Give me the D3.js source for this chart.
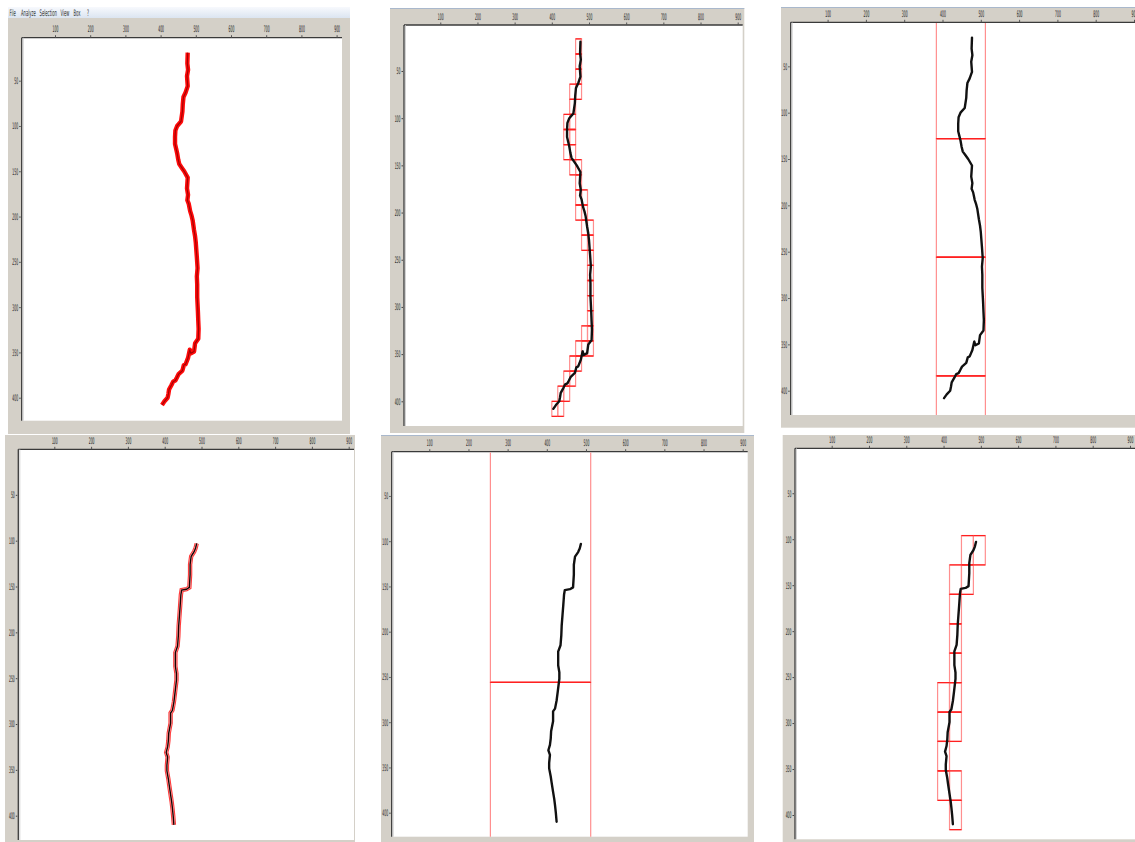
<!DOCTYPE html>
<html><head><meta charset="utf-8">
<script src="https://cdn.jsdelivr.net/npm/d3@7"></script>
<style>body{margin:0;background:#fff}svg{display:block}</style>
</head><body>
<svg id="c" width="1135" height="842"></svg>
<script>
// ---------- data ----------
const xTicks = [100,200,300,400,500,600,700,800,900];
const yTicks = [50,100,150,200,250,300,350,400];
const menuItems = ["File","Analyze","Selection","View","Box","?"];

// crack profile A (top row), [x, y] in image units
const curveA = [[477,19],[476,31],[478,38],[475,45],[477,56],[471,63],[465,68],[463,76],[462,84],[458,95],[447,100],[442,105],[441,112],[441,120],[444,125],[447,130],[450,137],[453,142],[460,146],[467,150],[477,157],[476,163],[475,169],[478,176],[476,182],[480,186],[482,190],[484,194],[488,199],[491,204],[495,215],[498,222],[500,229],[503,245],[505,257],[503,266],[504,275],[504,289],[506,305],[507,315],[508,324],[507,335],[498,340],[495,349],[486,351],[483,347],[478,356],[471,363],[466,364],[462,370],[451,374],[446,378],[442,381],[436,382],[431,386],[424,391],[422,396],[420,400],[411,404],[404,408]];
// crack profile B (bottom row)
const curveB = [[487,103],[484,108],[480,112],[472,117],[469,126],[469,137],[467,151],[459,153],[446,154],[444,159],[443,165],[442,171],[440,182],[438,193],[437,204],[435,215],[429,222],[429,230],[429,237],[432,245],[432,252],[428,266],[425,276],[421,285],[416,288],[416,299],[411,310],[410,318],[408,325],[404,331],[408,336],[406,345],[406,351],[410,360],[412,366],[416,377],[419,385],[421,392],[423,400],[425,410]];

// occupied boxes [x0, y0]
const boxes16 = [[464,16],[464,32],[464,48],[448,64],[464,64],[448,80],[432,96],[448,96],[432,112],[448,112],[432,128],[448,128],[448,144],[464,144],[464,160],[464,176],[480,176],[464,192],[480,192],[480,208],[496,208],[480,224],[496,224],[496,240],[496,256],[496,272],[496,288],[496,304],[480,320],[496,320],[464,336],[480,336],[496,336],[448,352],[464,352],[432,368],[448,368],[416,384],[432,384],[400,400],[416,400]];
const boxes128 = [[384,0],[384,128],[384,256],[384,384]];
const boxes256 = [[256,0],[256,256]];
const boxes32 = [[448,96],[480,96],[416,128],[448,128],[416,160],[416,192],[416,224],[384,256],[416,256],[384,288],[416,288],[384,320],[384,352],[416,352],[416,384]];

// ---------- layout ----------
const panels = [
  {frame:[8,18,350,434], plot:[21.7,37.7,342,420.7], xr:[19.8,336.6], yr:[35.4,397.7], curve:curveA, style:"red", menu:true},
  {frame:[390,8,744.3,433], plot:[404,25,742.7,426], xr:[403.1,737.7], yr:[23.8,401.3], curve:curveA, style:"black", boxes:boxes16, size:16, topline:true},
  {frame:[781,7,1140,427.7], plot:[790.7,22.3,1140,415], xr:[789.3,1134], yr:[20,390.7], curve:curveA, style:"black", boxes:boxes128, size:128, topline:true},
  {frame:[5,435,355,842], plot:[18.3,449.3,354,840], xr:[17.5,348.7], yr:[449,815.7], curve:curveB, style:"redbox"},
  {frame:[381,435,754,842], plot:[391.7,451.7,747.7,836.7], xr:[390.1,742.7], yr:[450.7,812.7], curve:curveB, style:"black", boxes:boxes256, size:256, topline:true},
  {frame:[782.7,435,1140,842], plot:[795,448.3,1140,839.3], xr:[794.4,1130], yr:[447.3,815], curve:curveB, style:"black", boxes:boxes32, size:32}
];

const svg = d3.select("#c");
const defs = svg.append("defs");
const FONT = "'DejaVu Sans', 'Liberation Sans', sans-serif";

panels.forEach((p, i) => {
  const [fx0, fy0, fx1, fy1] = p.frame;
  const [l, t, r, b] = p.plot;
  const g = svg.append("g");
  const x = d3.scaleLinear().domain([0, 900]).range(p.xr);
  const y = d3.scaleLinear().domain([0, 400]).range(p.yr);

  if (p.menu) {
    const grad = defs.append("linearGradient").attr("id","mg").attr("x1",0).attr("x2",0).attr("y1",0).attr("y2",1);
    grad.append("stop").attr("offset","0%").attr("stop-color","#f7f9fd");
    grad.append("stop").attr("offset","100%").attr("stop-color","#dce5f1");
    g.append("rect").attr("x", fx0).attr("y", 7).attr("width", fx1 - fx0).attr("height", fy0 - 7).attr("fill", "url(#mg)");
    const mx = [9.5, 21, 39.5, 60.5, 73.5, 87];
    menuItems.forEach((m, k) => {
      g.append("g").attr("transform", `translate(${mx[k]},16)`)
        .append("text").attr("transform","scale(0.42,1)")
        .attr("font-family", FONT).attr("font-size", 9).attr("fill", "#333").text(m);
    });
  }
  // frame
  g.append("rect").attr("x", fx0).attr("y", fy0).attr("width", fx1 - fx0).attr("height", fy1 - fy0).attr("fill", "#d4d0c8");
  if (p.topline) g.append("line").attr("x1", fx0).attr("x2", fx1).attr("y1", fy0 + 0.5).attr("y2", fy0 + 0.5).attr("stroke", "#a9b8cc").attr("stroke-width", 1);
  // plot area
  g.append("rect").attr("x", l).attr("y", t).attr("width", r - l).attr("height", b - t).attr("fill", "#fff");
  g.append("line").attr("x1", l).attr("x2", r).attr("y1", t).attr("y2", t).attr("stroke", "#3a3a3a").attr("stroke-width", 1.3);
  g.append("line").attr("x1", l).attr("x2", l).attr("y1", t).attr("y2", b).attr("stroke", "#3a3a3a").attr("stroke-width", 1.3);
  g.append("line").attr("x1", l+1.5).attr("x2", l+1.5).attr("y1", t).attr("y2", b).attr("stroke", "#c8c8c8").attr("stroke-width", 0.8);

  // axes
  const ax = g.append("g").attr("transform", `translate(0,${t})`)
    .call(d3.axisTop(x).tickValues(xTicks).tickSize(2.5).tickPadding(3).tickFormat(d3.format("d")));
  ax.select(".domain").remove();
  ax.selectAll(".tick line").attr("stroke", "#555");
  ax.selectAll(".tick text").attr("transform", "scale(0.34,1)").attr("font-family", FONT).attr("font-size", 9).attr("fill", "#222");

  const ay = g.append("g").attr("transform", `translate(${l},0)`)
    .call(d3.axisLeft(y).tickValues(yTicks).tickSize(2.5).tickPadding(0).tickFormat(d3.format("d")));
  ay.select(".domain").remove();
  ay.selectAll(".tick line").attr("stroke", "#444").attr("x1", -1);
  ay.selectAll(".tick text").attr("x", 0).attr("transform", "translate(-3.5,0) scale(0.34,1)")
    .attr("font-family", FONT).attr("font-size", 9).attr("fill", "#222");

  // clip
  const cid = "clip" + i;
  defs.append("clipPath").attr("id", cid).append("rect").attr("x", l + 0.7).attr("y", t + 0.7).attr("width", r - l - 0.7).attr("height", b - t - 0.7);
  const pg = g.append("g").attr("clip-path", `url(#${cid})`);

  const line = d3.line().x(d => x(d[0])).y(d => y(d[1])).curve(d3.curveLinear);

  // boxes
  if (p.boxes) {
    const s = p.size;
    pg.selectAll("rect.box").data(p.boxes).join("rect").attr("class","box")
      .attr("x", d => x(d[0])).attr("y", d => y(d[1]))
      .attr("width", d => x(d[0] + s) - x(d[0])).attr("height", d => y(d[1] + s) - y(d[1]))
      .attr("fill", "none").attr("stroke", "#ff8f8f").attr("stroke-width", 1.2);
    pg.selectAll("line.htop").data(p.boxes).join("line").attr("class","htop")
      .attr("x1", d => x(d[0])).attr("x2", d => x(d[0] + s))
      .attr("y1", d => y(d[1])).attr("y2", d => y(d[1]))
      .attr("stroke", "#ff2020").attr("stroke-width", 1.3);
    pg.selectAll("line.hbot").data(p.boxes).join("line").attr("class","hbot")
      .attr("x1", d => x(d[0])).attr("x2", d => x(d[0] + s))
      .attr("y1", d => y(d[1] + s)).attr("y2", d => y(d[1] + s))
      .attr("stroke", "#ff2020").attr("stroke-width", 1.3);
  }

  // curve
  if (p.style === "red") {
    pg.append("path").datum(p.curve).attr("d", line).attr("fill","none").attr("stroke","#ff0a0a").attr("stroke-width",4.4).attr("stroke-linejoin","round");
    pg.append("path").datum(p.curve).attr("d", line).attr("fill","none").attr("stroke","#8a0000").attr("stroke-width",1.1).attr("stroke-opacity",0.8).attr("stroke-linejoin","round");
  } else if (p.style === "redbox") {
    pg.append("path").datum(p.curve).attr("d", line).attr("fill","none").attr("stroke","#ff3b3b").attr("stroke-width",4.4).attr("stroke-linejoin","miter");
    pg.append("path").datum(p.curve).attr("d", line).attr("fill","none").attr("stroke","#ffc8c8").attr("stroke-width",2.2);
    pg.append("path").datum(p.curve).attr("d", line).attr("fill","none").attr("stroke","#1a0000").attr("stroke-width",1.4);
  } else {
    pg.append("path").datum(p.curve).attr("d", line).attr("fill","none").attr("stroke","#111").attr("stroke-width",2.4).attr("stroke-linejoin","round").attr("stroke-linecap","round");
  }
});
</script>
</body></html>
